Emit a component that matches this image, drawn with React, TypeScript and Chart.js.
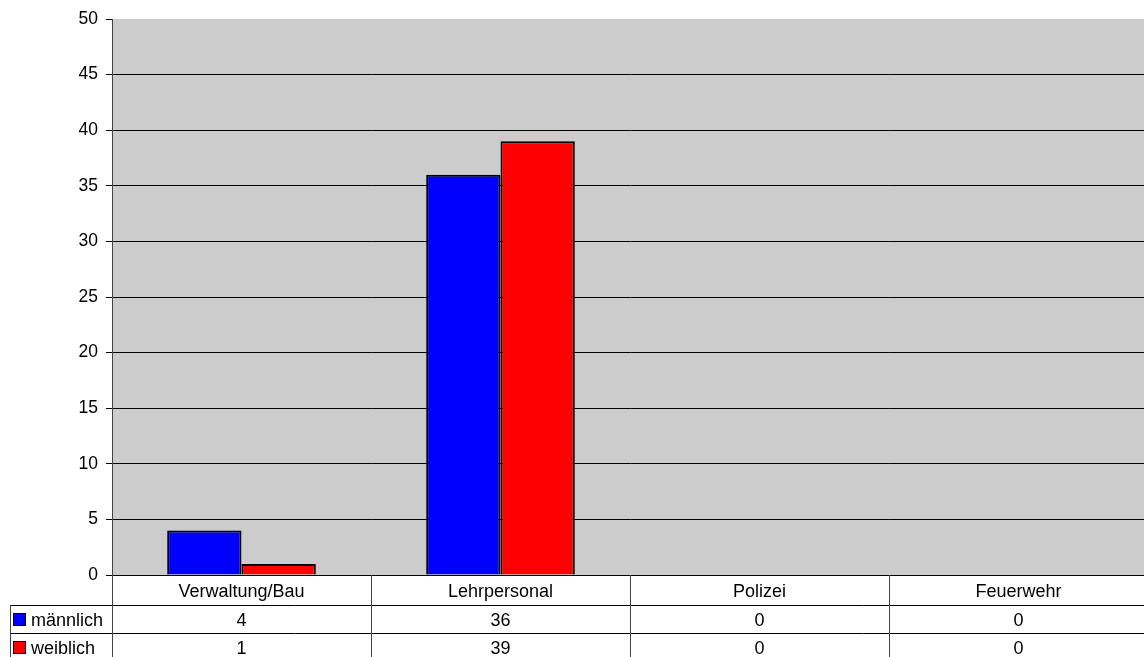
import React, { useEffect, useRef } from "react";
import { Chart, registerables } from "chart.js";

Chart.register(...registerables);

const categories = ["Verwaltung/Bau", "Lehrpersonal", "Polizei", "Feuerwehr"];
const seriesNames = ["männlich", "weiblich"];
const maleValues = [4, 36, 0, 0];
const femaleValues = [1, 39, 0, 0];
const seriesColors = ["#0000ff", "#ff0000"];
const yMin = 0;
const yMax = 50;
const yStep = 5;

const FONT = "Liberation Sans, Arial, sans-serif";

const tablePlugin = {
  id: "dataTable",
  beforeDraw(chart: any) {
    const { ctx, chartArea } = chart;
    ctx.save();
    ctx.fillStyle = "#cccccc";
    ctx.fillRect(chartArea.left, chartArea.top, chartArea.right - chartArea.left, chartArea.bottom - chartArea.top);
    ctx.restore();
  },
  afterDraw(chart: any) {
    const { ctx, chartArea } = chart;
    const x = chart.scales.x;
    const left = chartArea.left;
    const right = chartArea.right;
    const axisY = chartArea.bottom;
    const row1 = axisY + 30;
    const row2 = row1 + 28;
    const bottom = chart.height;
    const legendLeft = 10;

    ctx.save();
    ctx.lineWidth = 1;
    ctx.strokeStyle = "#000";
    ctx.beginPath();
    ctx.moveTo(legendLeft, row1 + 0.5);
    ctx.lineTo(right, row1 + 0.5);
    ctx.moveTo(legendLeft, row2 + 0.5);
    ctx.lineTo(right, row2 + 0.5);
    ctx.stroke();

    ctx.strokeStyle = "#444";
    ctx.beginPath();
    ctx.moveTo(legendLeft + 0.5, row1);
    ctx.lineTo(legendLeft + 0.5, bottom);
    ctx.moveTo(Math.round(left) + 0.5, axisY);
    ctx.lineTo(Math.round(left) + 0.5, bottom);
    for (let i = 0; i < categories.length - 1; i++) {
      const b = Math.round((x.getPixelForValue(i) + x.getPixelForValue(i + 1)) / 2) + 0.5;
      ctx.moveTo(b, axisY);
      ctx.lineTo(b, bottom);
    }
    ctx.stroke();

    ctx.fillStyle = "#000";
    ctx.font = `18px ${FONT}`;
    ctx.textAlign = "center";
    ctx.textBaseline = "middle";
    const labelY = (axisY + row1) / 2 + 2;
    const r1Y = (row1 + row2) / 2 + 2;
    const r2Y = row2 + 14 + 2;
    const rows = [maleValues, femaleValues];
    categories.forEach((c, i) => {
      const cx = x.getPixelForValue(i);
      ctx.fillText(c, cx, labelY);
      ctx.fillText(String(rows[0][i]), cx, r1Y);
      ctx.fillText(String(rows[1][i]), cx, r2Y);
    });

    const keyYs = [r1Y, r2Y];
    ctx.textAlign = "left";
    seriesNames.forEach((name, s) => {
      const ky = Math.round(keyYs[s] - 8);
      ctx.fillStyle = seriesColors[s];
      ctx.fillRect(13, ky, 12, 12);
      ctx.strokeStyle = "#000";
      ctx.strokeRect(13.5, ky + 0.5, 12, 12);
      ctx.fillStyle = "#000";
      ctx.fillText(name, 31, keyYs[s]);
    });
    ctx.restore();
  },
};

export default function App() {
  const canvasRef = useRef<HTMLCanvasElement | null>(null);

  useEffect(() => {
    if (!canvasRef.current) return;
    const chart = new Chart(canvasRef.current, {
      type: "bar",
      data: {
        labels: categories,
        datasets: [
          {
            label: seriesNames[0],
            data: maleValues,
            backgroundColor: seriesColors[0],
            borderColor: "#000",
            borderWidth: 2,
          },
          {
            label: seriesNames[1],
            data: femaleValues,
            backgroundColor: seriesColors[1],
            borderColor: "#000",
            borderWidth: 2,
          },
        ],
      },
      options: {
        animation: false,
        responsive: true,
        maintainAspectRatio: false,
        layout: { padding: { left: 0, top: 19, right: 0, bottom: 82 } },
        plugins: {
          legend: { display: false },
          tooltip: { enabled: false },
        },
        datasets: {
          bar: { categoryPercentage: 0.574, barPercentage: 1 },
        },
        scales: {
          x: {
            display: false,
          },
          y: {
            min: yMin,
            max: yMax,
            ticks: {
              stepSize: yStep,
              color: "#000",
              font: { family: FONT, size: 17.5 },
              padding: 8,
            },
            grid: {
              color: (c: any) => (c.tick && c.tick.value === yMax ? "rgba(0,0,0,0)" : "#000"),
              tickColor: "#000",
              tickLength: 6,
              lineWidth: 1,
            },
            border: { display: true, color: "#444" },
            afterFit: (scale: any) => {
              scale.width = 112;
            },
          },
        },
      },
      plugins: [tablePlugin],
    });
    return () => chart.destroy();
  }, []);

  return (
    <div style={{ position: "absolute", left: 0, top: 0, width: 1144, height: 657, overflow: "hidden", background: "#fff" }}>
      <div style={{ position: "absolute", left: 0, top: 0, width: 1148, height: 657 }}>
        <canvas ref={canvasRef} />
      </div>
    </div>
  );
}
